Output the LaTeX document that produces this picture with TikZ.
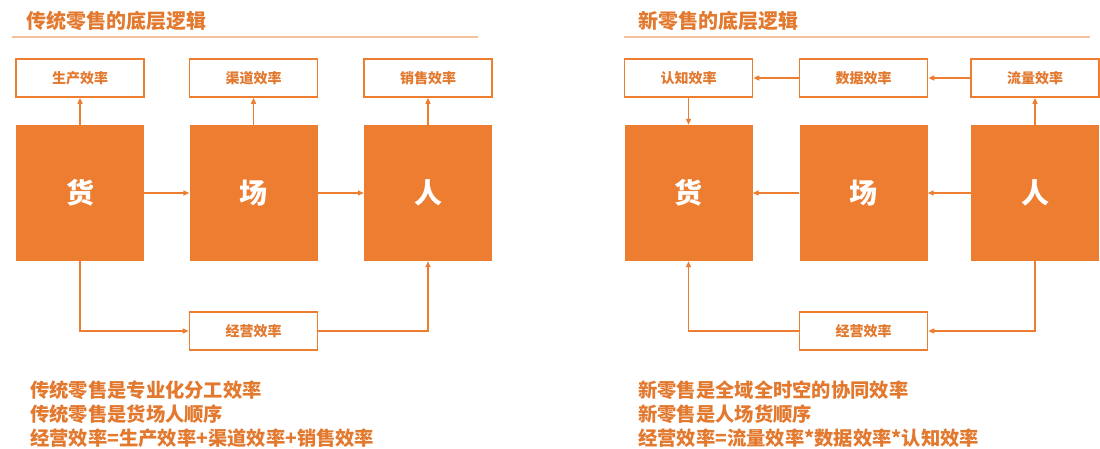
\documentclass[tikz,border=0pt]{standalone}
\usepackage{fontspec}
\setmainfont{Noto Sans CJK SC}
\usetikzlibrary{arrows.meta}
\definecolor{retailorange}{HTML}{EC7D31}
\definecolor{textorange}{HTML}{E2792F}
\definecolor{ruleorange}{HTML}{F3C19C}
\tikzset{
    effbox/.style={draw=retailorange,line width=1.6pt,fill=white,minimum width=128pt,minimum height=38pt,inner sep=0pt,text=textorange,font=\fontsize{14}{16}\selectfont\bfseries},
    bigbox/.style={fill=retailorange,minimum width=128pt,minimum height=136pt,inner sep=0pt,text=white,font=\fontsize{28}{30}\selectfont\bfseries},
    flow/.style={draw=retailorange,line width=1.4pt,-{Triangle[length=6pt,width=5pt]}},
    headtext/.style={text=textorange,inner sep=0pt,font=\fontsize{20}{22}\selectfont\bfseries},
    headrule/.style={draw=ruleorange,line width=1.5pt},
    notetext/.style={text=textorange,inner sep=0pt,align=left,font=\fontsize{19.3}{24}\selectfont\bfseries}
}
\newcommand{\panelhead}[3]{
    \begin{scope}[shift={(#1,0)}]
        \node[headtext,anchor=west] (#2) at (0,21) {#3};
        \draw[headrule] (-14,37) -- (452,37);
    \end{scope}
}

\begin{document}
\begin{tikzpicture}[x=1pt,y=-1pt]
        \useasboundingbox (0,0) rectangle (1100,448);

        % traditional retail
        \panelhead{26}{oldtitle}{传统零售的底层逻辑}
        \node[effbox] (sc) at (80,78) {生产效率};
        \node[effbox] (qd) at (253.5,78) {渠道效率};
        \node[effbox] (xs) at (428,78) {销售效率};
        \node[bigbox] (huoL) at (80,193) {货};
        \node[bigbox] (changL) at (253.5,193) {场};
        \node[bigbox] (renL) at (428,193) {人};
        \node[effbox] (jyL) at (253.5,331) {经营效率};

        \draw[flow] (huoL) -- (sc);
        \draw[flow] (changL) -- (qd);
        \draw[flow] (renL) -- (xs);
        \draw[flow] (huoL) -- (changL);
        \draw[flow] (changL) -- (renL);
        \draw[flow] (huoL.south) |- (jyL.west);
        \draw[flow] (jyL.east) -| (renL.south);

        \node[notetext,anchor=north west] (oldnote) at (30,381)
            {传统零售是专业化分工效率\\传统零售是货场人顺序\\经营效率=生产效率+渠道效率+销售效率};

        % new retail
        \panelhead{638}{newtitle}{新零售的底层逻辑}
        \node[effbox] (rz) at (688.5,78) {认知效率};
        \node[effbox] (sj) at (863.5,78) {数据效率};
        \node[effbox] (ll) at (1035,78) {流量效率};
        \node[bigbox] (huoR) at (688.5,193) {货};
        \node[bigbox] (changR) at (863.5,193) {场};
        \node[bigbox] (renR) at (1035,193) {人};
        \node[effbox] (jyR) at (863.5,331) {经营效率};

        \draw[flow] (ll) -- (sj);
        \draw[flow] (sj) -- (rz);
        \draw[flow] (rz) -- (huoR);
        \draw[flow] (renR) -- (ll);
        \draw[flow] (renR) -- (changR);
        \draw[flow] (changR) -- (huoR);
        \draw[flow] (renR.south) |- (jyR.east);
        \draw[flow] (jyR.west) -| (huoR.south);

        \node[notetext,anchor=north west] (newnote) at (638,381)
            {新零售是全域全时空的协同效率\\新零售是人场货顺序\\经营效率=流量效率*数据效率*认知效率};
\end{tikzpicture}
\end{document}
